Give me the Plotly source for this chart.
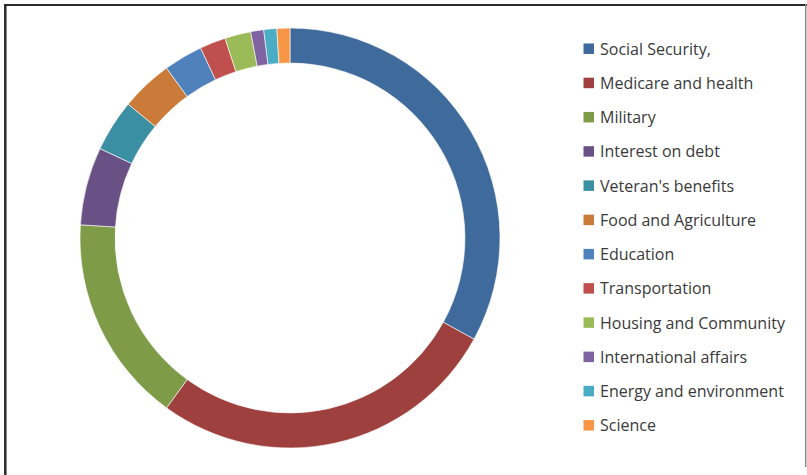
import plotly.graph_objects as go

categories = ["Social Security,", "Medicare and health", "Military", "Interest on debt",
              "Veteran's benefits", "Food and Agriculture", "Education", "Transportation",
              "Housing and Community", "International affairs", "Energy and environment", "Science"]
values = [33, 27, 16, 6, 4, 4, 3, 2, 2, 1, 1, 1]
colors = ["#3F6A9C", "#9E413E", "#7E9B48", "#6A5185", "#3B8FA3", "#CB7B39",
          "#4F81BD", "#C0504D", "#9BBB59", "#8064A2", "#4BACC6", "#F79646"]

W, H = 807, 475
cx, cy, R = 290, 238, 210

fig = go.Figure(go.Pie(
    labels=categories, values=values, sort=False, direction="clockwise", rotation=0,
    hole=0.833, textinfo="none", hoverinfo="label+value",
    marker=dict(colors=colors, line=dict(color="white", width=0.6)),
    domain=dict(x=[(cx - R) / W, (cx + R) / W], y=[(H - cy - R) / H, (H - cy + R) / H]),
    showlegend=False,
))

shapes = []
annotations = []
leg_y0, leg_dy = 48.7, 34.24
mx0, msz, tx = 583.5, 10.5, 598
for i, (name, col) in enumerate(zip(categories, colors)):
    yc = leg_y0 + i * leg_dy
    shapes.append(dict(type="rect", xref="paper", yref="paper",
                       x0=mx0 / W, x1=(mx0 + msz) / W,
                       y0=1 - (yc - msz / 2) / H, y1=1 - (yc + msz / 2) / H,
                       fillcolor=col, line=dict(width=0)))
    annotations.append(dict(xref="paper", yref="paper", x=tx / W, y=1 - yc / H,
                            xanchor="left", yanchor="middle", showarrow=False, text=name,
                            font=dict(family="Open Sans", size=16, color="#3a3a3a")))

# chart border
shapes += [
    dict(type="line", xref="paper", yref="paper", x0=4 / W, x1=807 / W, y0=1 - 5 / H, y1=1 - 5 / H,
         line=dict(color="#2b2b2b", width=2)),
    dict(type="line", xref="paper", yref="paper", x0=5.3 / W, x1=5.3 / W, y0=1 - 4 / H, y1=0,
         line=dict(color="#2b2b2b", width=2.5)),
    dict(type="line", xref="paper", yref="paper", x0=805.7 / W, x1=805.7 / W, y0=1 - 4 / H, y1=1 - 467 / H,
         line=dict(color="#8a8a8a", width=1.5)),
]

fig.update_layout(width=W, height=H, margin=dict(l=0, r=0, t=0, b=0),
                  paper_bgcolor="white", plot_bgcolor="white",
                  shapes=shapes, annotations=annotations)
fig.write_html("out.html", config={"displayModeBar": False},
               post_script="document.body.style.margin='0';document.body.style.overflow='hidden';")
